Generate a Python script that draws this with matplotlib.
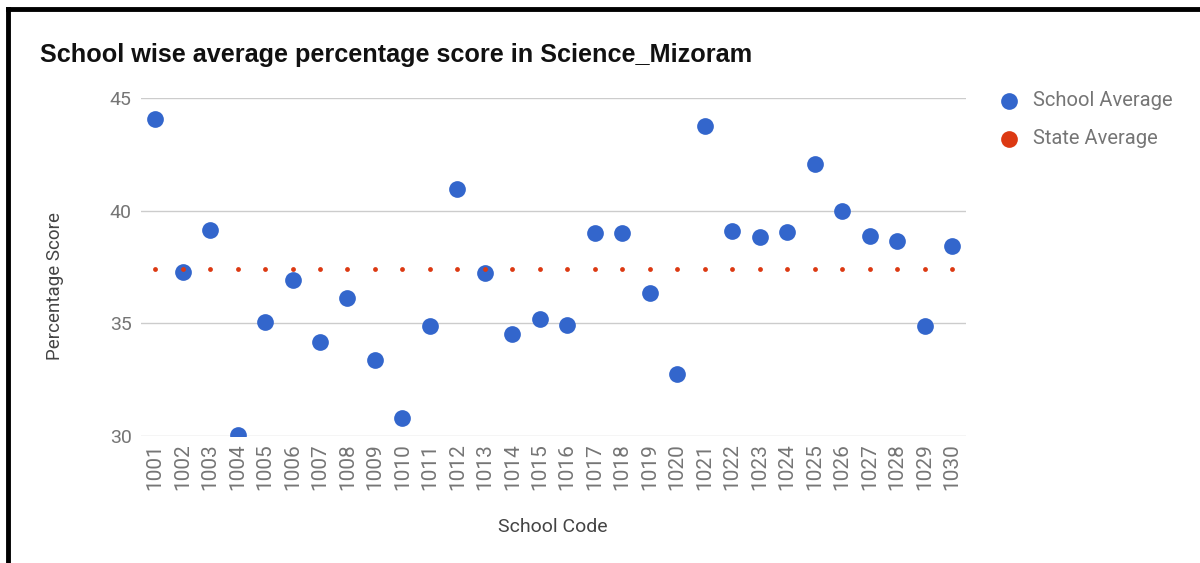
import matplotlib.pyplot as plt
from matplotlib.lines import Line2D

school_codes = [str(c) for c in range(1001, 1031)]
school_avg = [44.06, 37.27, 39.16, 30.05, 35.07, 36.92, 34.19, 36.12, 33.36, 30.78,
              34.90, 40.95, 37.23, 34.51, 35.18, 34.93, 39.00, 39.00, 36.34, 32.73,
              43.75, 39.12, 38.81, 39.04, 42.08, 40.00, 38.89, 38.67, 34.90, 38.45]
state_avg = [37.41] * 30
y_ticks = [30, 35, 40, 45]

plt.rcParams['font.family'] = ['Roboto', 'DejaVu Sans']

W, H = 1200, 563
fig = plt.figure(figsize=(12, 5.63), dpi=100)
ax = fig.add_axes([0.1178, 0.2256, 0.687, 0.6003])

x = list(range(len(school_codes)))
ax.scatter(x, school_avg, s=145, color="#3366cc", zorder=3, label="School Average", linewidths=0)
ax.scatter(x, state_avg, s=12, color="#dc3912", zorder=4, label="State Average", linewidths=0)

ax.set_xlim(-0.5, len(school_codes) - 0.5)
ax.set_ylim(30, 45)
ax.set_yticks(y_ticks)
ax.set_xticks(x)
ax.set_xticklabels(school_codes, rotation=90)
ax.tick_params(axis="both", length=0, colors="#757575")
ax.tick_params(axis="y", labelsize=14, pad=7)
ax.tick_params(axis="x", labelsize=15, pad=5)
ax.grid(axis="y", color="#cccccc", linewidth=1)
ax.set_axisbelow(True)
for s in ax.spines.values():
    s.set_visible(False)

# axis titles placed like the reference
fig.text(553 / W, 1 - 527 / H, "School Code", fontsize=14, color="#444444",
         ha="center", va="center")
fig.text(55 / W, 1 - 286 / H, "Percentage Score", fontsize=13.5, color="#444444",
         ha="center", va="center", rotation=90)

fig.text(40 / W, 1 - 55 / H, "School wise average percentage score in Science_Mizoram",
         fontsize=18.2, fontweight="bold", color="#111111", va="center", ha="left",
         family=["Liberation Sans", "DejaVu Sans"])

leg = ax.legend(loc="upper left", bbox_to_anchor=(1.006, 1.075), frameon=False,
                fontsize=14.5, labelspacing=0.95, handletextpad=0.2, markerscale=1)
for t in leg.get_texts():
    t.set_color("#757575")
leg.legend_handles[1].set_sizes([145])

# black frame from the screenshot (left and top)
fig.add_artist(Line2D([8 / W, 8 / W], [0, 1 - 9 / H], transform=fig.transFigure,
                      color="black", linewidth=3.5, solid_capstyle="projecting"))
fig.add_artist(Line2D([8 / W, 1], [1 - 9 / H, 1 - 9 / H], transform=fig.transFigure,
                      color="black", linewidth=3.5, solid_capstyle="projecting"))

fig.savefig("out.png", dpi=100)
